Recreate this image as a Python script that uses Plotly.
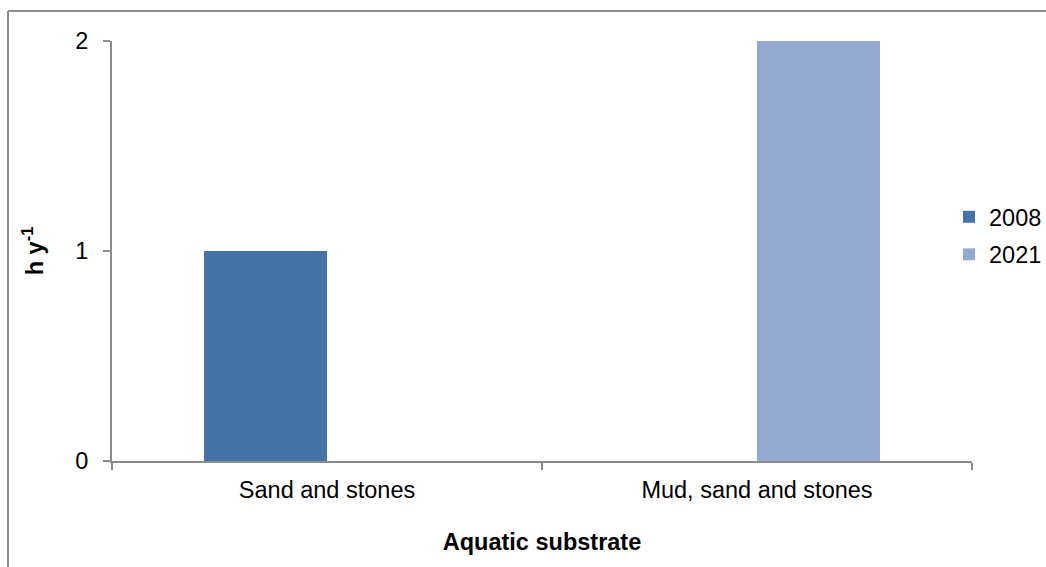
import plotly.graph_objects as go

categories = ["Sand and stones", "Mud, sand and stones"]
values_2008 = [1, None]
values_2021 = [None, 2]
y_ticks = [0, 1, 2]

W, H = 1046, 567
L, R, T, B = 112, 74, 41, 106
pw, ph = W - L - R, H - T - B

def px_x(x):
    return (x - L) / pw

def px_y(y):
    return (H - B - y) / ph

fig = go.Figure()
fig.add_trace(go.Bar(name="2008", x=categories, y=values_2008,
                     marker=dict(color="#4673A7", line=dict(width=0)),
                     legendgroup="a"))
fig.add_trace(go.Bar(name="2021", x=categories, y=values_2021,
                     marker=dict(color="#95A9D0", line=dict(width=0)),
                     legendgroup="b"))

# outer chart frame (left and top edges)
frame = dict(type="line", xref="paper", yref="paper",
             line=dict(color="#8C8C8C", width=2))
fig.add_shape(**frame, x0=px_x(8), x1=px_x(8), y0=px_y(11), y1=px_y(H + 5))
fig.add_shape(**frame, x0=px_x(8), x1=px_x(W + 5), y0=px_y(11), y1=px_y(11))

FS = 23.5
fig.update_layout(
    width=W, height=H,
    margin=dict(l=L, r=R, t=T, b=B, autoexpand=False),
    paper_bgcolor="white", plot_bgcolor="white",
    barmode="group", bargap=0.428, bargroupgap=0,
    font=dict(family="Liberation Sans, Arial", size=FS, color="black"),
    showlegend=True,
    legend=dict(x=px_x(949), xanchor="left", y=px_y(236), yanchor="middle",
                font=dict(size=FS), tracegroupgap=4,
                itemwidth=30, bgcolor="rgba(0,0,0,0)"),
    xaxis=dict(
        range=[-0.5, 1.5], tickson="boundaries", ticks="outside",
        ticklen=7, tickcolor="#8C8C8C", tickwidth=2,
        showline=True, linecolor="#8C8C8C", linewidth=2,
        showgrid=False, zeroline=False, tickfont=dict(size=FS),
        ticklabelstandoff=7,
        title=dict(text="<b>Aquatic substrate</b>", font=dict(size=FS), standoff=31),
    ),
    yaxis=dict(
        range=[0, 2], tickvals=y_ticks, ticks="outside",
        ticklen=7, tickcolor="#8C8C8C", tickwidth=2,
        showline=True, linecolor="#8C8C8C", linewidth=2,
        showgrid=False, zeroline=False, tickfont=dict(size=FS),
        ticklabelstandoff=10,
        title=dict(text="<b>h y<sup>-1</sup></b>", font=dict(size=FS), standoff=25),
    ),
)

fig.write_html("out.html")
